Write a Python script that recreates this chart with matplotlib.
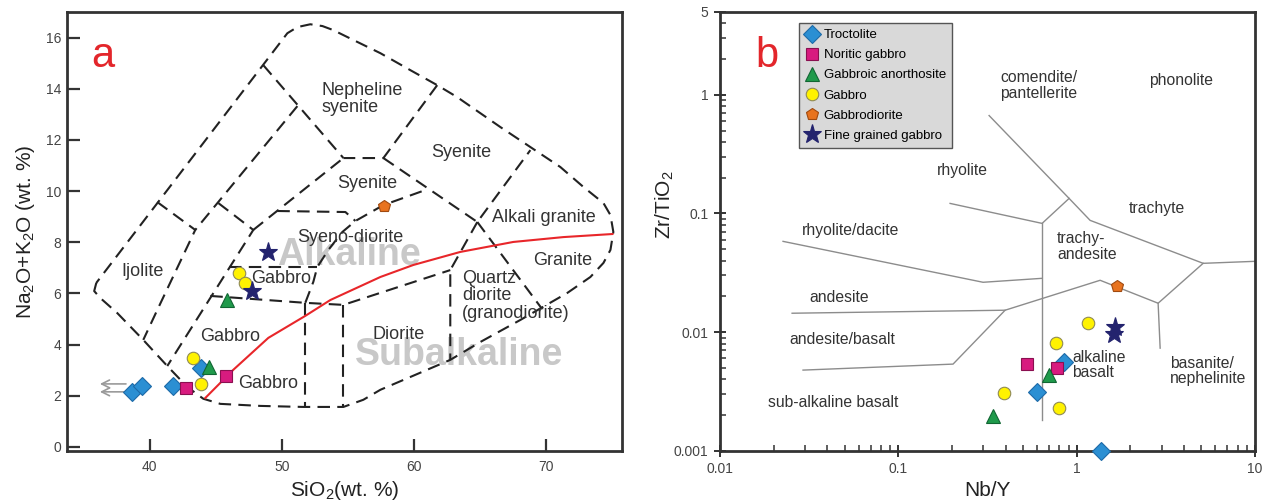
import matplotlib
matplotlib.use('Agg')
import matplotlib.pyplot as plt
from matplotlib.ticker import LogLocator, NullFormatter, FixedLocator, FixedFormatter

plt.rcParams['font.family'] = ['Liberation Sans', 'DejaVu Sans']
plt.rcParams['mathtext.fontset'] = 'custom'
plt.rcParams['mathtext.rm'] = 'Liberation Sans'

# sample groups
groups = ['Troctolite', 'Noritic gabbro', 'Gabbroic anorthosite', 'Gabbro',
          'Gabbrodiorite', 'Fine grained gabbro']

# panel a: SiO2 vs Na2O+K2O (wt. %)
troc_sio2 = [38.67, 39.42, 41.77, 43.90]
troc_alk = [2.15, 2.38, 2.38, 3.09]
nor_sio2 = [42.76, 45.79]
nor_alk = [2.30, 2.77]
anor_sio2 = [44.50, 45.87]
anor_alk = [3.13, 5.74]
gab_sio2 = [43.29, 43.90, 46.78, 47.23]
gab_alk = [3.48, 2.46, 6.80, 6.41]
gd_sio2 = [57.77]
gd_alk = [9.41]
fg_sio2 = [48.98, 47.76]
fg_alk = [7.62, 6.09]

# panel b: Nb/Y vs Zr/TiO2
troc_nby = [0.850, 0.600, 1.37]
troc_zrti = [0.00558, 0.00312, 0.00100]
nor_nby = [0.527, 0.776]
nor_zrti = [0.00537, 0.00497]
anor_nby = [0.700, 0.340]
anor_zrti = [0.00434, 0.00196]
gab_nby = [1.158, 0.766, 0.392, 0.797]
gab_zrti = [0.0119, 0.00806, 0.00306, 0.00229]
gd_nby = [1.685]
gd_zrti = [0.0243]
fg_nby = [1.642, 1.621]
fg_zrti = [0.0110, 0.0096]

# TAS field boundaries (Wilson 1989 plutonic)
tas_outer = [(35.94, 6.41), (35.78, 6.09), (36.24, 5.82), (37.53, 5.23), (39.50, 4.18),
             (41.32, 3.16), (42.84, 2.34), (44.05, 1.88), (45.34, 1.68), (48.37, 1.60),
             (51.63, 1.56), (54.67, 1.56), (56.18, 1.84), (57.47, 2.23), (62.77, 3.40),
             (65.05, 4.10), (68.08, 4.96), (71.65, 6.02), (73.39, 6.64), (74.38, 7.19),
             (74.91, 7.70), (75.13, 8.40), (74.91, 9.06), (74.38, 9.53), (72.86, 10.16),
             (71.11, 10.94), (68.84, 11.72), (66.57, 12.50), (63.30, 13.67), (61.78, 14.14),
             (59.73, 14.73), (57.47, 15.39), (54.97, 16.02), (53.91, 16.29), (53.08, 16.45),
             (52.16, 16.52), (51.18, 16.41), (50.42, 16.17), (35.94, 6.41)]
tas_lines = [
    [(48.60, 14.92), (54.67, 11.29)],
    [(51.18, 13.32), (43.44, 8.48)],
    [(40.56, 9.57), (43.44, 8.48), (40.56, 5.35), (39.50, 4.18)],
    [(45.19, 9.53), (47.84, 8.48), (41.32, 3.16)],
    [(47.84, 8.48), (54.67, 11.29)],
    [(61.78, 14.14), (57.70, 11.29), (54.67, 11.29)],
    [(57.70, 11.29), (64.82, 8.79), (68.84, 11.60)],
    [(64.82, 8.79), (62.77, 6.91), (62.77, 3.40)],
    [(64.82, 8.79), (69.67, 5.43)],
    [(49.66, 9.22), (54.82, 9.18), (55.58, 8.83)],
    [(51.78, 5.63), (52.39, 6.45), (52.69, 7.03), (53.53, 7.70), (54.59, 8.40),
     (55.58, 8.83), (57.70, 9.45), (61.10, 10.08)],
    [(46.02, 7.03), (52.69, 7.03)],
    [(44.58, 5.90), (51.78, 5.63), (54.67, 5.55), (62.77, 6.91)],
    [(51.78, 5.63), (51.78, 1.56)],
    [(54.67, 5.55), (54.67, 1.56)],
]
# alkaline / subalkaline divide
ab_sio2 = [44.20, 46.32, 48.98, 51.78, 53.68, 57.47, 59.97, 63.53, 67.55, 71.34, 75.06]
ab_alk = [1.91, 3.01, 4.26, 5.12, 5.74, 6.64, 7.11, 7.62, 8.01, 8.20, 8.32]

tas_names = ['Nepheline\nsyenite', 'Syenite', 'Syenite', 'Alkali granite', 'Syeno-diorite',
             'Ijolite', 'Gabbro', 'Granite', 'Gabbro', 'Diorite', 'Gabbro']
tas_name_x = [53.0, 63.62, 56.51, 69.90, 55.19, 39.42, 49.98, 71.27, 46.11, 58.84, 48.98]
tas_name_y = [13.60, 11.52, 10.31, 8.98, 8.20, 6.84, 6.60, 7.27, 4.30, 4.41, 2.46]

# Winchester & Floyd (1977) field boundaries
wf_lines = [
    [(0.02256, 0.0582), (0.2985, 0.0263), (0.6397, 0.0284)],
    [(0.195, 0.1216), (0.6397, 0.0825), (0.9066, 0.134)],
    [(0.3227, 0.6695), (0.9066, 0.134), (1.189, 0.0875), (5.117, 0.038), (10.0, 0.0395)],
    [(0.6397, 0.0825), (0.6397, 0.00181)],
    [(0.02536, 0.01442), (0.3968, 0.01529), (1.353, 0.02734), (2.861, 0.01751), (5.117, 0.038)],
    [(2.861, 0.01751), (2.937, 0.00732)],
    [(0.0292, 0.00478), (0.2026, 0.00537), (0.3968, 0.01529)],
]
wf_names = ['comendite/\npantellerite', 'phonolite', 'rhyolite', 'trachyte', 'rhyolite/dacite',
            'trachy-\nandesite', 'andesite', 'andesite/basalt', 'sub-alkaline basalt',
            'alkaline\nbasalt', 'basanite/\nnephelinite']
wf_name_x = [0.372, 3.85, 0.2275, 2.82, 0.0536, 0.776, 0.0465, 0.0483, 0.0431, 0.942, 3.34]
wf_name_y = [1.197, 1.32, 0.2307, 0.1104, 0.0721, 0.0528, 0.01968, 0.00871, 0.00257, 0.00526, 0.00469]
wf_name_ha = ['left', 'center', 'center', 'center', 'center', 'left', 'center', 'center',
              'center', 'left', 'left']

marks = ['D', 's', '^', 'o', 'p', '*']
fills = ['#2b8fd3', '#d81b7f', '#1f9a4b', '#fff200', '#e8731f', '#23236e']
edges = ['#1d6aa8', '#8a1050', '#116633', '#8f8a55', '#a04a10', '#23236e']
sizes = [9.5, 9, 10, 9, 9, 14]

txt = '#333333'
fig = plt.figure(figsize=(12.69, 5.04), dpi=100)
ax1 = fig.add_axes([0.0526, 0.1058, 0.4377, 0.8704])
ax2 = fig.add_axes([0.5674, 0.1058, 0.4216, 0.8704])

# ---------------- panel a
dash = (0, (6, 3.5))
ax1.plot([p[0] for p in tas_outer], [p[1] for p in tas_outer], color='#222222', lw=1.5, ls=dash)
for ln in tas_lines:
    ax1.plot([p[0] for p in ln], [p[1] for p in ln], color='#222222', lw=1.5, ls=dash)
ax1.plot(ab_sio2, ab_alk, color='#e8262a', lw=1.5, zorder=3)

ax1.text(55.12, 7.5, 'Alkaline', fontsize=27, fontweight='bold', color='#c8c8c8',
         ha='center', va='center', zorder=1)
ax1.text(63.46, 3.59, 'Subalkaline', fontsize=27, fontweight='bold', color='#c8c8c8',
         ha='center', va='center', zorder=1)
for name, x, y in zip(tas_names, tas_name_x, tas_name_y):
    ax1.text(x, y, name, fontsize=13, color=txt, ha='left' if '\n' in name else 'center',
             va='center', linespacing=1.0, zorder=2)
ax1.text(63.68, 5.90, 'Quartz\ndiorite\n(granodiorite)', fontsize=13, color=txt,
         ha='left', va='center', linespacing=1.05, zorder=2)

xa = [troc_sio2, nor_sio2, anor_sio2, gab_sio2, gd_sio2, fg_sio2]
ya = [troc_alk, nor_alk, anor_alk, gab_alk, gd_alk, fg_alk]
for i in range(6):
    ax1.plot(xa[i], ya[i], ls='none', marker=marks[i], mfc=fills[i], mec=edges[i],
             ms=sizes[i], mew=0.8, zorder=5)

for y in [2.46, 2.15]:
    ax1.annotate('', xy=(36.0, y), xytext=(38.4, y),
                 arrowprops=dict(arrowstyle='->', color='#9a9a9a', lw=1.2,
                                 mutation_scale=14))

ax1.text(0.065, 0.90, 'a', transform=ax1.transAxes, fontsize=30, color='#e3262b',
         ha='center', va='center')
ax1.set_xlim(33.7, 75.8)
ax1.set_ylim(-0.15, 17)
ax1.set_xticks([40, 50, 60, 70])
ax1.set_yticks(range(0, 17, 2))
ax1.tick_params(direction='in', length=9, width=1.6, labelsize=10, labelcolor='#444444',
                color='#333333')
ax1.tick_params(axis='x', pad=7)
ax1.tick_params(axis='y', pad=4)
ax1.set_xlabel(r'SiO$_\mathregular{2}$(wt. %)', fontsize=15, color='#222222', labelpad=3)
ax1.set_ylabel(r'Na$_\mathregular{2}$O+K$_\mathregular{2}$O (wt. %)', fontsize=15,
               color='#222222', labelpad=6)

# ---------------- panel b
for ln in wf_lines:
    ax2.plot([p[0] for p in ln], [p[1] for p in ln], color='#8c8c8c', lw=1.0)
for name, x, y, ha in zip(wf_names, wf_name_x, wf_name_y, wf_name_ha):
    ax2.text(x, y, name, fontsize=11.3, color=txt, ha=ha, va='center', linespacing=1.05)

xb = [troc_nby, nor_nby, anor_nby, gab_nby, gd_nby, fg_nby]
yb = [troc_zrti, nor_zrti, anor_zrti, gab_zrti, gd_zrti, fg_zrti]
for i in range(6):
    ax2.plot(xb[i], yb[i], ls='none', marker=marks[i], mfc=fills[i], mec=edges[i],
             ms=sizes[i], mew=0.8, zorder=5, clip_on=False, label=groups[i])

ax2.text(0.088, 0.90, 'b', transform=ax2.transAxes, fontsize=30, color='#e3262b',
         ha='center', va='center')
ax2.set_xscale('log')
ax2.set_yscale('log')
ax2.set_xlim(0.01, 10)
ax2.set_ylim(0.001, 5)
ax2.xaxis.set_major_locator(FixedLocator([0.01, 0.1, 1, 10]))
ax2.xaxis.set_major_formatter(FixedFormatter(['0.01', '0.1', '1', '10']))
ax2.yaxis.set_major_locator(FixedLocator([0.001, 0.01, 0.1, 1, 5]))
ax2.yaxis.set_major_formatter(FixedFormatter(['0.001', '0.01', '0.1', '1', '5']))
ax2.xaxis.set_minor_locator(LogLocator(base=10, subs=range(2, 10)))
ax2.yaxis.set_minor_locator(LogLocator(base=10, subs=range(2, 10)))
ax2.xaxis.set_minor_formatter(NullFormatter())
ax2.yaxis.set_minor_formatter(NullFormatter())
ax2.tick_params(which='major', direction='inout', length=9, width=1.4, labelsize=10,
                labelcolor='#444444', color='#333333', pad=4)
ax2.tick_params(which='minor', direction='in', length=4, width=1.1, color='#333333')
ax2.set_xlabel('Nb/Y', fontsize=15, color='#222222', labelpad=3)
ax2.set_ylabel(r'Zr/TiO$_\mathregular{2}$', fontsize=15, color='#222222')
ax2.yaxis.set_label_coords(-0.082, 0.56)

leg = ax2.legend(loc='upper left', bbox_to_anchor=(0.148, 0.975), fontsize=9.5,
                 frameon=True, fancybox=False, framealpha=1, borderaxespad=0,
                 handlelength=1.0, handletextpad=0.4, labelspacing=0.6, borderpad=0.45,
                 markerscale=1.0)
leg.get_frame().set_facecolor('#d9d9d9')
leg.get_frame().set_edgecolor('#555555')
leg.get_frame().set_linewidth(1.0)

for ax in (ax1, ax2):
    for s in ax.spines.values():
        s.set_linewidth(2.0)
        s.set_color('#333333')

fig.savefig('out.png', dpi=100)
